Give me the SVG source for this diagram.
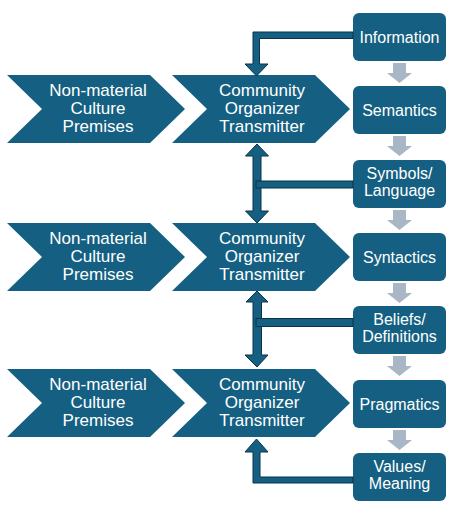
<svg xmlns="http://www.w3.org/2000/svg" width="459" height="508" viewBox="0 0 459 508">
<style>
.chev{fill:#156082}
.box{fill:#156082}
.t{fill:#ffffff;font-family:"Liberation Sans",Arial,sans-serif;text-anchor:middle}
.ct{font-size:17px}
.bt{font-size:16px}
.conn{fill:#156082;stroke:#0C3346;stroke-width:1;stroke-linejoin:miter}
.gray{fill:#A9B6C5}
</style>
<rect width="459" height="508" fill="#ffffff"/>
<g id="row1-premises"><polygon class="chev" points="7,75 150,75 185,109 150,143 7,143 42,109"/>
<text class="t ct" x="98" y="96">Non-material</text><text class="t ct" x="98" y="114">Culture</text><text class="t ct" x="98" y="132">Premises</text></g>
<g id="row1-organizer"><polygon class="chev" points="172,75 315,75 350,109 315,143 172,143 207,109"/>
<text class="t ct" x="262" y="96">Community</text><text class="t ct" x="262" y="114">Organizer</text><text class="t ct" x="262" y="132">Transmitter</text></g>
<g id="row2-premises"><polygon class="chev" points="7,223 150,223 185,257 150,291 7,291 42,257"/>
<text class="t ct" x="98" y="244">Non-material</text><text class="t ct" x="98" y="262">Culture</text><text class="t ct" x="98" y="280">Premises</text></g>
<g id="row2-organizer"><polygon class="chev" points="172,223 315,223 350,257 315,291 172,291 207,257"/>
<text class="t ct" x="262" y="244">Community</text><text class="t ct" x="262" y="262">Organizer</text><text class="t ct" x="262" y="280">Transmitter</text></g>
<g id="row3-premises"><polygon class="chev" points="7,369 150,369 185,403 150,437 7,437 42,403"/>
<text class="t ct" x="98" y="390">Non-material</text><text class="t ct" x="98" y="408">Culture</text><text class="t ct" x="98" y="426">Premises</text></g>
<g id="row3-organizer"><polygon class="chev" points="172,369 315,369 350,403 315,437 172,437 207,403"/>
<text class="t ct" x="262" y="390">Community</text><text class="t ct" x="262" y="408">Organizer</text><text class="t ct" x="262" y="426">Transmitter</text></g>
<g id="information"><rect class="box" x="353" y="13" width="93" height="48" rx="6"/><text class="t bt" x="399.5" y="42.5">Information</text></g>
<g id="semantics"><rect class="box" x="353" y="86" width="93" height="48" rx="6"/><text class="t bt" x="399.5" y="115.5">Semantics</text></g>
<g id="symbols"><rect class="box" x="353" y="160" width="93" height="48" rx="6"/><text class="t bt" x="399.5" y="178.5">Symbols/</text><text class="t bt" x="399.5" y="195.5">Language</text></g>
<g id="syntactics"><rect class="box" x="353" y="233" width="93" height="48" rx="6"/><text class="t bt" x="399.5" y="262.5">Syntactics</text></g>
<g id="beliefs"><rect class="box" x="353" y="306" width="93" height="48" rx="6"/><text class="t bt" x="399.5" y="325">Beliefs/</text><text class="t bt" x="399.5" y="342">Definitions</text></g>
<g id="pragmatics"><rect class="box" x="353" y="380" width="93" height="48" rx="6"/><text class="t bt" x="399.5" y="409.5">Pragmatics</text></g>
<g id="values"><rect class="box" x="353" y="453" width="93" height="48" rx="6"/><text class="t bt" x="399.5" y="472">Values/</text><text class="t bt" x="399.5" y="489">Meaning</text></g>
<g id="connectors">
<polygon class="gray" points="393,63 406,63 406,73 412,73 399.5,83 387,73 393,73"/>
<polygon class="gray" points="393,136 406,136 406,146 412,146 399.5,156 387,146 393,146"/>
<polygon class="gray" points="393,210 406,210 406,220 412,220 399.5,230 387,220 393,220"/>
<polygon class="gray" points="393,283 406,283 406,293 412,293 399.5,303 387,293 393,293"/>
<polygon class="gray" points="393,356 406,356 406,366 412,366 399.5,376 387,366 393,366"/>
<polygon class="gray" points="393,430 406,430 406,440 412,440 399.5,450 387,440 393,440"/>
<polygon class="conn" points="353,32 253,32 253,64 245,64 256.5,76 268,64 259.5,64 259.5,38.5 353,38.5"/>
<polygon class="conn" points="257,144 268.5,156 261,156 261,211 268.5,211 257,223 245.5,211 253,211 253,156 245.5,156"/>
<rect class="conn" x="256" y="181" width="97" height="7"/>
<polygon class="conn" points="257,291 268,302 261.5,302 261.5,355 268,355 257,367 245,355 253,355 253,302 246,302"/>
<rect class="conn" x="256" y="318.5" width="97" height="8"/>
<polygon class="conn" points="353,483 253,483 253,452 245,452 256.5,439 268,452 260,452 260,477 353,477"/>
</g>
</svg>
